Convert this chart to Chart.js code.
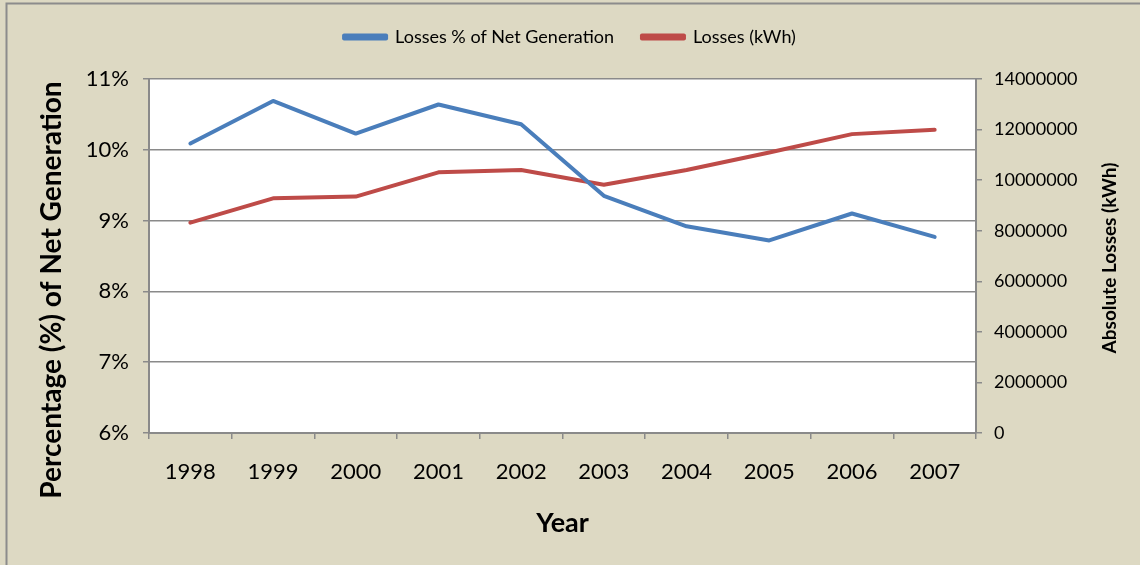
<!DOCTYPE html>
<html>
<head>
<meta charset="utf-8">
<script src="https://cdn.jsdelivr.net/npm/chart.js@4"></script>
<style>
  html, body { margin: 0; padding: 0; background: #ddd9c3; }
  #wrap { width: 1140px; height: 565px; }
</style>
</head>
<body>
<div id="wrap"><canvas id="lossChart" width="1140" height="565"></canvas></div>
<script>
// values
const years = ['1998', '1999', '2000', '2001', '2002', '2003', '2004', '2005', '2006', '2007'];
const lossPct = [10.09, 10.69, 10.23, 10.64, 10.36, 9.35, 8.92, 8.72, 9.10, 8.77];
const lossKwh = [8320000, 9280000, 9350000, 10310000, 10400000, 9820000, 10400000, 11090000, 11820000, 11990000];

const FONT = 'Lato, "Noto Sans", sans-serif';
const AXIS_GREY = '#8a8a8a';

// beige background, thin frame and white plot area
const backdrop = {
    id: 'backdrop',
    beforeDraw(chart) {
        const { ctx, chartArea: a, width, height } = chart;
        ctx.save();
        ctx.fillStyle = '#ddd9c3';
        ctx.fillRect(0, 0, width, height);
        ctx.strokeStyle = '#8c8c8c';
        ctx.lineWidth = 2;
        ctx.beginPath();
        ctx.moveTo(6.5, height);
        ctx.lineTo(6.5, 3.5);
        ctx.lineTo(width, 3.5);
        ctx.stroke();
        ctx.fillStyle = '#ffffff';
        ctx.fillRect(a.left, a.top, a.right - a.left, a.bottom - a.top);
        ctx.restore();
    }
};

// both y titles read bottom-to-top, and the left one sits lower than the plot centre
function drawUpTitle(ctx, text, x, y, size) {
    ctx.save();
    ctx.translate(x, y);
    ctx.rotate(-Math.PI / 2);
    ctx.font = 'bold ' + size + 'px ' + FONT;
    ctx.fillStyle = '#000';
    ctx.textAlign = 'center';
    ctx.textBaseline = 'middle';
    ctx.fillText(text, 0, 0);
    ctx.restore();
}

const axisTitles = {
    id: 'axisTitles',
    afterDraw(chart) {
        drawUpTitle(chart.ctx, 'Percentage (%) of Net Generation', 52, 290, 28);
        drawUpTitle(chart.ctx, 'Absolute Losses (kWh)', 1110, 258, 19);
    }
};

new Chart(document.getElementById('lossChart'), {
    type: 'line',
    data: {
        labels: years,
        datasets: [
            {
                label: 'Losses % of Net Generation',
                data: lossPct,
                yAxisID: 'yPct',
                borderColor: '#4a7ebb',
                backgroundColor: '#4a7ebb',
                borderWidth: 4,
                pointRadius: 0,
                tension: 0,
                borderCapStyle: 'round',
                borderJoinStyle: 'round'
            },
            {
                label: 'Losses (kWh)',
                data: lossKwh,
                yAxisID: 'yKwh',
                borderColor: '#be4b48',
                backgroundColor: '#be4b48',
                borderWidth: 4,
                pointRadius: 0,
                tension: 0,
                borderCapStyle: 'round',
                borderJoinStyle: 'round'
            }
        ]
    },
    options: {
        responsive: false,
        animation: false,
        layout: { padding: { top: 0, left: 0, right: 0, bottom: 0 } },
        plugins: {
            legend: {
                display: true,
                position: 'top',
                labels: {
                    color: '#000',
                    font: { family: FONT, size: 18 },
                    boxWidth: 42,
                    boxHeight: 3,
                    padding: 28
                }
            },
            // empty spacer between the legend and the plot
            subtitle: {
                display: true,
                text: ' ',
                weight: 500,
                font: { size: 10 },
                padding: { top: 5, bottom: 6 }
            },
            tooltip: { enabled: false }
        },
        scales: {
            x: {
                type: 'category',
                offset: true,
                grid: { offset: true, drawOnChartArea: false, tickLength: 6, color: AXIS_GREY, lineWidth: 1.5 },
                border: { color: AXIS_GREY, width: 2 },
                ticks: { color: '#000', font: { family: FONT, size: 22 }, padding: 20, maxRotation: 0 },
                title: {
                    display: true,
                    text: 'Year',
                    color: '#000',
                    font: { family: FONT, size: 27, weight: 'bold' },
                    padding: { top: 0, bottom: 26 }
                },
                afterFit(scale) { scale.height = 132; }
            },
            yPct: {
                position: 'left',
                min: 6,
                max: 11,
                grid: { color: AXIS_GREY, lineWidth: 1.5, tickLength: 6 },
                border: { color: AXIS_GREY, width: 2 },
                ticks: {
                    stepSize: 1,
                    color: '#000',
                    font: { family: FONT, size: 22 },
                    padding: 14,
                    callback: (v) => v + '%'
                },
                afterFit(scale) { scale.width = 149; }
            },
            yKwh: {
                position: 'right',
                min: 0,
                max: 14000000,
                grid: { drawOnChartArea: false, color: AXIS_GREY, lineWidth: 1.5, tickLength: 6 },
                border: { color: AXIS_GREY, width: 2 },
                ticks: {
                    stepSize: 2000000,
                    color: '#000',
                    font: { family: FONT, size: 18 },
                    padding: 12,
                    callback: (v) => String(v)
                },
                afterFit(scale) { scale.width = 164; }
            }
        }
    },
    plugins: [backdrop, axisTitles]
});
</script>
</body>
</html>
